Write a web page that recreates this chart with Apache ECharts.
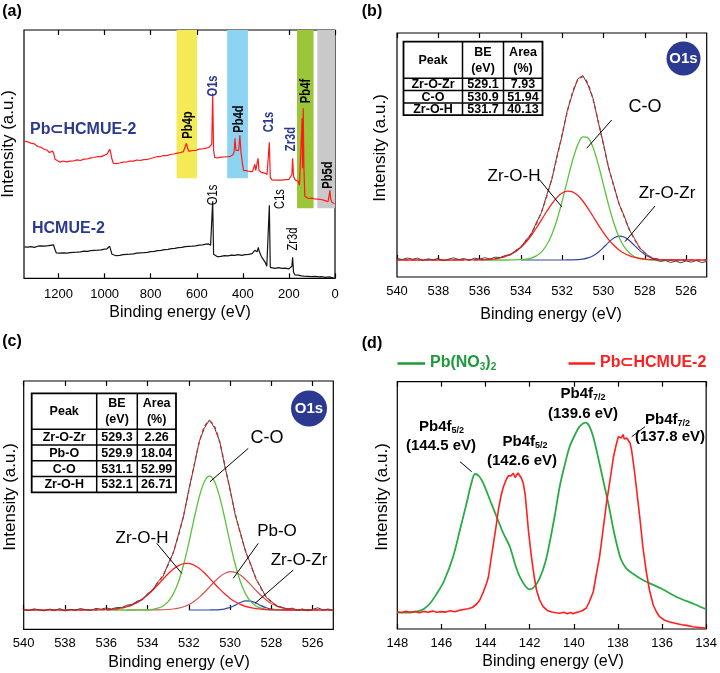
<!DOCTYPE html>
<html><head><meta charset="utf-8">
<script src="https://cdn.jsdelivr.net/npm/echarts@6/dist/echarts.min.js"></script>
<style>html,body{margin:0;padding:0;background:#fff}#c{width:720px;height:673px}</style>
</head><body><div id="c"></div>
<script>
// ---------------- DATA ----------------
const tickA = [0, 200, 400, 600, 800, 1000, 1200];
const tickBC = [526, 528, 530, 532, 534, 536, 538, 540];
const tickD = [134, 136, 138, 140, 142, 144, 146, 148];

// (a) survey spectra [binding energy, intensity]
const surveyComposite = [[1348,137],[1335,136.6],[1320,135.2],[1305,134.4],[1290,131.8],[1275,130.9],[1260,128.8],[1250,128.2],[1240,125.8],[1232,126.6],[1226,127.2],[1220,124],[1215,119],[1208,117],[1195,116.2],[1180,117.3],[1165,116.4],[1150,117.2],[1135,117.3],[1120,118.4],[1105,117.8],[1090,119.2],[1075,119.3],[1060,120.4],[1045,120.8],[1030,121.8],[1015,121.7],[1000,123.2],[990,124],[982,126],[978,129],[974,126],[968,119],[962,115],[950,114.6],[935,115.3],[920,116.2],[905,116.3],[890,117.3],[875,117.2],[860,118.3],[845,117.8],[830,118.7],[815,118.8],[800,119.8],[785,120.8],[770,121.8],[760,121.6],[745,122.8],[730,122.7],[715,123.8],[700,124.3],[685,125.2],[670,125.8],[658,126.7],[650,128],[645,135],[640,130],[634,127],[620,127.8],[605,127.8],[590,129.2],[575,129.3],[560,130.2],[548,130.8],[540,132],[535,134],[531,185],[527,128],[522,121],[510,120.3],[495,121.2],[480,121.3],[465,121.7],[455,122],[445,123],[438,126],[434,140],[430,128],[425,126],[418,128],[413,143],[408,126],[402,115],[397,108],[385,107.6],[370,106.8],[358,106.7],[352,108],[348,114],[344,108],[338,107.5],[334,120],[330,108],[320,106],[305,105.2],[295,103.8],[289,104.5],[285,136],[281,101],[274,98.5],[260,98.2],[245,98.3],[230,98.1],[215,98.6],[200,98.8],[192,100],[187,104],[184,120],[180,102],[172,98],[165,99],[160,97],[154,93],[148,95],[143,160],[141,110],[138,170],[135,110],[131,82],[125,80.6],[115,79.8],[100,80.2],[90,79.4],[75,79.1],[60,78.8],[50,78.2],[40,77.4],[30,76.6],[25,78],[22,88],[19,80],[14,76],[8,75.5],[2,74.5],[0,74]];
const surveyPristine = [[1348,31.5],[1335,31.1],[1320,31.6],[1305,30.9],[1290,32.1],[1275,32.4],[1260,32.1],[1245,32.6],[1235,33],[1228,34.5],[1222,33.5],[1216,29],[1210,25.5],[1195,25.1],[1180,25.4],[1165,25.1],[1150,25.6],[1135,25.9],[1120,26.1],[1105,26.4],[1090,27.1],[1075,26.9],[1060,27.6],[1045,27.9],[1030,28.1],[1015,28.4],[1000,29.1],[990,29.5],[982,30.5],[978,32],[974,30],[968,24],[962,22.5],[950,22.6],[935,22.9],[920,23.6],[905,23.9],[890,24.1],[875,24.4],[860,25.1],[845,25.4],[830,25.6],[815,25.9],[800,26.6],[785,26.9],[770,27.6],[755,27.9],[740,28.6],[725,28.9],[710,29.6],[695,29.9],[680,30.6],[665,30.9],[650,31.6],[635,31.9],[620,32.1],[605,32.4],[590,33.1],[575,33.4],[560,34.1],[550,34.5],[540,33],[535,31],[531,77],[527,24],[522,22],[510,21.6],[495,21.9],[480,22.6],[465,22.4],[450,23.1],[435,22.9],[420,23.6],[405,22.9],[390,23.6],[375,23.9],[360,24.6],[352,25],[348,28],[344,26],[338,26.5],[333,31],[329,27],[320,22],[312,20],[303,16],[296,12],[289,11.5],[285,73],[281,11],[275,10.6],[260,9.9],[245,10.6],[230,9.9],[215,10.1],[200,9.4],[192,9.6],[187,12],[184,21],[180,6],[174,3.5],[160,3.1],[145,2.4],[140,3.5],[135,2.1],[120,1.9],[100,1.6],[85,2],[70,1.4],[60,1.6],[40,1],[25,1.5],[22,3],[19,1],[10,0.5],[0,0]];
const bandRanges = [[688, 599], [468, 378], [165, 93], [77, 0]];
const bandFloor = [100, 100, 70, 70];

// (b),(c) fitted components on a common energy grid
const fitGrid = [540,539,538,537,536.5,536,535.75,535.5,535.25,535,534.75,534.5,534.25,534,533.75,533.5,533.25,533,532.75,532.5,532.25,532,531.75,531.5,531.25,531,530.75,530.5,530.25,530,529.75,529.5,529.25,529,528.75,528.5,528.25,528,527.75,527.5,527.25,527,526.5,526,525.5,525];
const bZrOH = [0,0,0,0.02,0.08,0.19,0.36,0.68,1.23,2.12,3.51,5.62,8.61,12.7,17.98,24.5,32.0,40.2,48.5,56.2,62.6,67.0,68.9,68.1,64.7,59.0,51.7,43.5,35.2,27.4,20.4,14.7,10.1,6.7,4.3,2.6,1.5,0.86,0.47,0.24,0.12,0.06,0,0,0,0];
const bCO = [null,null,null,null,null,0,0,0,0,0,0,0.04,0.12,0.33,0.82,1.91,4.1,8.15,15.0,25.5,40.3,58.8,79.4,99.3,115.0,123.2,122.3,112.3,95.5,75.2,54.8,37.0,23.1,13.4,7.2,3.5,1.6,0.69,0.27,0.1,0,0,null,null,null,null];
const bZrOZr = [null,null,null,null,null,null,null,null,null,null,null,null,null,0,0,0,0,0,0,0,0,0,0.03,0.1,0.33,0.88,2.07,4.28,7.79,12.49,17.6,21.9,23.9,23.0,19.5,14.6,9.6,5.5,2.8,1.26,0.5,0.17,0.02,0,null,null];
const bEnvelope = [0,0,0,0.02,0.08,0.2,0.4,0.7,1.2,2.1,3.5,5.7,8.7,13.0,18.8,26.4,36.1,48.3,63.5,81.7,102.9,125.8,148.3,167.4,179.7,183.1,176.1,160.1,138.5,115.1,92.8,73.6,57.1,43.1,31.0,20.7,12.7,7.1,3.5,1.6,0.6,0.2,0.02,0,0,0];

const cZrOH = [0,0,0,0.02,0.1,0.39,0.7,1.22,2.05,3.3,5.1,7.6,10.9,15.0,19.8,25.2,30.8,36.2,40.9,44.4,46.4,46.6,44.9,41.7,37.2,31.9,26.3,20.9,15.9,11.6,8.2,5.6,3.6,2.3,1.4,0.8,0.44,0.23,0.1,0.05,0,0,0,0,0,0];
const cCO = [null,null,null,null,null,0,0,0,0,0,0.01,0.03,0.09,0.26,0.71,1.77,4.03,8.4,16.1,28.2,45.5,67.1,90.8,112.7,128.3,134,128.3,112.7,90.8,67.1,45.5,28.2,16.1,8.4,4.0,1.8,0.7,0.26,0.1,0,null,null,null,null,null,null];
const cPbO = [null,null,null,null,null,null,null,null,null,0,0,0,0,0.02,0.05,0.11,0.25,0.5,1.0,1.9,3.3,5.5,8.6,12.6,17.5,23.0,28.5,33.3,36.7,38.3,37.6,34.9,30.5,25.2,19.7,14.5,10.1,6.6,4.1,2.4,1.3,0.69,0.15,0,null,null];
const cZrOZr = [null,null,null,null,null,null,null,null,null,null,null,null,null,null,null,null,null,null,null,null,null,0,0,0,0,0.02,0.1,0.36,1.08,2.57,4.9,7.5,9.1,8.9,7.0,4.4,2.2,0.88,0.28,0.07,0,0,0,0,null,null];
const cEnvelope = [0,0,0,0.02,0.1,0.4,0.7,1.2,2.1,3.3,5.1,7.6,11.0,15.3,20.5,27.0,34.8,45.1,58.0,74.5,95.2,119.2,144.3,167.0,183.0,188.9,183.2,167.3,144.5,119.6,96.2,76.2,59.3,44.8,32.1,21.5,13.4,8.0,4.6,2.5,1.3,0.7,0.15,0,0,0];

// (b),(c) measured O1s spectra
const rawGrid = [540,539.75,539.5,539.25,539,538.75,538.5,538.25,538,537.75,537.5,537.25,537,536.75,536.5,536.25,536,535.75,535.5,535.25,535,534.75,534.5,534.25,534,533.75,533.5,533.25,533,532.75,532.5,532.25,532,531.75,531.5,531.25,531,530.75,530.5,530.25,530,529.75,529.5,529.25,529,528.75,528.5,528.25,528,527.75,527.5,527.25,527,526.75,526.5,526.25,526,525.75,525.5,525.25,525];
const bRaw = [1.5,0.5,2.0,0.8,1.8,-0.5,1.2,0.2,1.6,-0.8,0.9,2.2,0.4,1.5,-0.3,1.8,1.0,2.3,1.0,2.8,2.5,4.6,5.2,9.8,12.5,20.2,25.6,37.4,47.5,64.8,80.6,104.1,124.7,149.6,166.2,181.0,184.5,175.0,161.3,137.6,116.2,91.8,74.7,56.2,44.3,30.1,21.8,11.9,7.8,2.6,0.4,-1.5,-0.6,-2.4,-1.2,-2.8,-0.9,-2.2,-0.5,-2.6,-1.4];
const cRaw = [0.8,-0.6,1.2,0.1,-0.9,0.9,-0.4,1.4,-1.0,0.6,-0.2,1.5,0.3,-0.5,1.6,0.8,2.1,0.9,2.6,2.4,4.8,5.6,8.9,10.2,16.4,19.8,28.3,33.6,46.2,57.1,75.8,94.0,120.5,143.2,168.1,181.7,190.2,182.0,168.4,143.1,120.8,95.0,77.3,58.1,45.9,31.0,22.6,12.5,8.9,3.7,2.9,0.6,1.9,-0.4,1.1,-0.8,0.7,2.2,0.1,1.0,-0.3];

const tableB = [['Peak','BE\n(eV)','Area\n(%)'],['Zr-O-Zr','529.1','7.93'],['C-O','530.9','51.94'],['Zr-O-H','531.7','40.13']];
const tableC = [['Peak','BE\n(eV)','Area\n(%)'],['Zr-O-Zr','529.3','2.26'],['Pb-O','529.9','18.04'],['C-O','531.1','52.99'],['Zr-O-H','532.1','26.71']];

// (d) Pb4f spectra
const dNitrate = [[148,16.3],[147.5,16.5],[147.1,17.5],[146.8,20],[146.5,26],[146.2,35.7],[145.9,47],[145.47,72.3],[145.15,100],[144.86,125.7],[144.65,145],[144.48,155],[144.3,153],[144.1,145.7],[143.8,129],[143.5,112.3],[143.2,96],[142.9,82.3],[142.65,64],[142.45,52.3],[142.2,43],[142.0,39.7],[141.8,42],[141.55,50.7],[141.3,66],[141.1,85.7],[140.85,115],[140.64,142.3],[140.4,165],[140.19,182.3],[139.95,194],[139.74,202.3],[139.46,206.3],[139.3,203],[139.12,192.3],[138.9,172],[138.67,149],[138.4,122],[138.2,99],[138.0,80],[137.85,69],[137.62,60.7],[137.3,55],[136.87,49],[136.0,40],[135.36,32.3],[134.5,24.5],[134,19.7]];
const dComposite = [[148,17.3],[147.8,16.5],[147.6,17.8],[147.4,16.6],[147.2,17.5],[147,16.2],[146.8,17.6],[146.6,16.8],[146.4,17.9],[146.2,16.7],[146,17.4],[145.8,16.9],[145.6,18.2],[145.4,17.3],[145.2,18.6],[145,19.5],[144.8,20.3],[144.6,21.5],[144.4,25],[144.26,29],[144.1,37],[143.95,46],[143.87,52],[143.75,70],[143.64,85.7],[143.52,103],[143.42,119],[143.3,133],[143.19,142.3],[143.05,150],[142.95,153.5],[142.85,153],[142.74,155.7],[142.66,151.5],[142.6,152.3],[142.53,156],[142.47,155],[142.38,151],[142.29,145.7],[142.2,134],[142.14,119],[142.05,97],[141.92,72.3],[141.8,53],[141.69,39],[141.55,29],[141.39,22.3],[141.2,18.6],[141,17],[140.8,16.2],[140.64,15.7],[140.45,16.8],[140.3,15.3],[140.15,16.5],[140.04,15.2],[139.9,16.4],[139.75,17.2],[139.6,18.5],[139.43,21],[139.3,27],[139.12,37],[139.0,52],[138.83,72.3],[138.68,98],[138.52,125.7],[138.35,150],[138.2,172.3],[138.08,184],[137.98,192.3],[137.85,191],[137.77,194.5],[137.71,190],[137.66,188.5],[137.6,191],[137.53,192.3],[137.45,186],[137.38,179],[137.25,158],[137.15,139],[137.0,110],[136.87,82.3],[136.72,58],[136.57,39],[136.4,24],[136.25,17],[136.11,12.3],[135.9,9],[135.7,7.2],[135.5,6.2],[135.36,5.5],[135.1,4.2],[134.9,3.6],[134.6,2.2],[134.3,1.5],[134,0.8]];

// ---------------- CHART ----------------
const FF = '"Liberation Sans", Arial, Helvetica, sans-serif';
const zip = (xs, ys) => xs.map((x, i) => [x, ys[i]]).filter(p => p[1] !== null && p[1] !== undefined);

const gridBoxes = [
  {left: 24, top: 30, width: 311, height: 248.3},
  {left: 397, top: 33, width: 309.7, height: 244},
  {left: 23.7, top: 381, width: 309.6, height: 248.3},
  {left: 397.3, top: 381.7, width: 309.4, height: 247.3}
];
const xRanges = [[0, 1350], [525, 540], [525, 540], [134, 148]];
const yRanges = [[0, 248.3], [-17, 227], [-19.3, 229], [0, 247.3]];
const tickSets = [tickA, tickBC, tickBC, tickD];
const labelMargins = [10, 8, 8, 8];

const grid = gridBoxes.map(g => Object.assign({show: true, borderColor: '#000', borderWidth: 1.2, backgroundColor: 'transparent', containLabel: false}, g));
const xAxis = [];
const yAxis = [];
gridBoxes.forEach((g, i) => {
  ['bottom', 'top'].forEach(pos => {
    xAxis.push({
      gridIndex: i, type: 'value', position: pos, inverse: true,
      min: xRanges[i][0], max: xRanges[i][1],
      axisLine: {show: false}, splitLine: {show: false},
      axisTick: {show: true, inside: true, length: 5, customValues: tickSets[i], lineStyle: {color: '#000', width: 1.2}},
      axisLabel: {show: pos === 'bottom', customValues: tickSets[i], margin: labelMargins[i], fontSize: 13, color: '#000', fontFamily: FF,
        formatter: v => String(v)}
    });
  });
  yAxis.push({gridIndex: i, type: 'value', min: yRanges[i][0], max: yRanges[i][1], show: false, splitLine: {show: false}});
});

function line(xi, yi, data, color, width, extra) {
  return Object.assign({type: 'line', xAxisIndex: xi, yAxisIndex: yi, data: data, symbol: 'none', silent: true,
    lineStyle: {color: color, width: width}, z: 3}, extra || {});
}

const bandColors = ['#f3ea55', '#8dd3f2', '#9bc63a', '#c9c9c9'];
const series = [
  {type: 'line', xAxisIndex: 0, yAxisIndex: 0, data: [[0, 0]], symbol: 'none', lineStyle: {width: 0}, z: 1, silent: true,
   markArea: {silent: true, data: bandRanges.map((r, k) => [
     {coord: [r[0], bandFloor[k]], itemStyle: {color: bandColors[k], opacity: 1}},
     {coord: [r[1], yRanges[0][1]]}])}},
  line(0, 0, surveyPristine, '#141414', 1.2),
  line(0, 0, surveyComposite, '#ff1a1a', 1.2),

  line(2, 1, zip(fitGrid, bZrOZr), '#2e4aa0', 1.2, {smooth: 0.3}),
  line(2, 1, zip(fitGrid, bCO), '#5cc23e', 1.3, {smooth: 0.3}),
  line(2, 1, zip(fitGrid, bZrOH), '#ff2020', 1.3, {smooth: 0.3}),
  line(2, 1, zip(rawGrid, bRaw), '#444444', 1, {z: 4}),
  line(2, 1, zip(fitGrid, bEnvelope), '#e02020', 1.2, {smooth: 0.3, z: 5, lineStyle: {color: '#e02020', width: 1.2, type: [4, 3]}}),

  line(4, 2, zip(fitGrid, cZrOZr), '#2e4aa0', 1.2, {smooth: 0.3}),
  line(4, 2, zip(fitGrid, cPbO), '#d0564f', 1.2, {smooth: 0.3}),
  line(4, 2, zip(fitGrid, cCO), '#5cc23e', 1.3, {smooth: 0.3}),
  line(4, 2, zip(fitGrid, cZrOH), '#ff2020', 1.3, {smooth: 0.3}),
  line(4, 2, zip(rawGrid, cRaw), '#444444', 1, {z: 4}),
  line(4, 2, zip(fitGrid, cEnvelope), '#e02020', 1.2, {smooth: 0.3, z: 5, lineStyle: {color: '#e02020', width: 1.2, type: [4, 3]}}),

  line(6, 3, dNitrate, '#2aab45', 1.8, {smooth: 0.3}),
  line(6, 3, dComposite, '#ff1f1f', 1.6)
];

// ---------- graphic texts / annotations ----------
function txt(x, y, text, style, extra) {
  return Object.assign({type: 'text', x: x, y: y, z: 100, silent: true,
    style: Object.assign({text: text, fill: '#000', fontSize: 16, fontFamily: FF, align: 'center', verticalAlign: 'middle'}, style || {})}, extra || {});
}
function seg(x1, y1, x2, y2, color, w) {
  return {type: 'line', z: 100, silent: true, shape: {x1: x1, y1: y1, x2: x2, y2: y2}, style: {stroke: color || '#000', lineWidth: w || 1}};
}
const ROT = Math.PI / 2;
const NAVY = '#2b3990';
const els = [];

// panel letters
[['(a)', 12, 12], ['(b)', 372, 12], ['(c)', 12, 342], ['(d)', 372, 344]].forEach(p => els.push(txt(p[1], p[2], p[0], {fontWeight: 'bold', fontSize: 16})));
// axis names
[[180, 313], [551, 315], [179, 663], [553, 662]].forEach(p => els.push(txt(p[0], p[1], 'Binding energy (eV)', {fontSize: 16})));
[[8.5, 144], [380, 148], [10, 497], [382, 497]].forEach(p => els.push(txt(p[0], p[1], 'Intensity (a.u.)', {fontSize: 17}, {rotation: ROT})));

// (a) labels
els.push(txt(30, 130, 'Pb⊂HCMUE-2', {fill: NAVY, fontWeight: 'bold', fontSize: 16, align: 'left'}));
els.push(txt(32, 229, 'HCMUE-2', {fill: NAVY, fontWeight: 'bold', fontSize: 16, align: 'left'}));
[['Pb4p', 188.5, 125, '#000', 'bold'], ['O1s', 213, 86, NAVY, 'bold'], ['Pb4d', 239.5, 119, '#000', 'bold'],
 ['C1s', 269.5, 122, NAVY, 'bold'], ['Zr3d', 291.5, 139, NAVY, 'bold'], ['Pb4f', 306.5, 91, '#000', 'bold'],
 ['Pb5d', 328.5, 175, '#000', 'bold'], ['O1s', 213.5, 195, '#000', 'normal'], ['C1s', 280, 199, '#000', 'normal'],
 ['Zr3d', 293.5, 239, '#000', 'normal']].forEach(l => els.push(txt(l[1], l[2], l[0], {fill: l[3], fontWeight: l[4], fontSize: 14}, {rotation: ROT, scaleX: 0.8})));

// tables
function table(cols, rows, data) {
  const out = [];
  out.push({type: 'rect', z: 99, silent: true, shape: {x: cols[0], y: rows[0], width: cols[cols.length - 1] - cols[0], height: rows[rows.length - 1] - rows[0]},
    style: {fill: '#fff', stroke: '#000', lineWidth: 1.8}});
  for (let i = 1; i < cols.length - 1; i++) out.push(seg(cols[i], rows[0], cols[i], rows[rows.length - 1], '#000', 1.5));
  for (let j = 1; j < rows.length - 1; j++) out.push(seg(cols[0], rows[j], cols[cols.length - 1], rows[j], '#000', 1.5));
  data.forEach((r, j) => r.forEach((t, i) => {
    out.push(txt((cols[i] + cols[i + 1]) / 2, (rows[j] + rows[j + 1]) / 2 + 0.5, t, {fontWeight: 'bold', fontSize: 12.5, lineHeight: 16}));
  }));
  return out;
}
els.push(...table([403.5, 462.5, 503.5, 542.5], [41.7, 78.3, 90.6, 102.9, 115.2], tableB));
els.push(...table([31.7, 96.7, 137.3, 176], [393.3, 429.3, 445, 460.7, 476.5, 492.3], tableC));

// O1s badges
[[683.5, 58.5, 17], [309, 408.5, 18]].forEach(b => {
  els.push({type: 'circle', z: 99, silent: true, shape: {cx: b[0], cy: b[1], r: b[2]}, style: {fill: NAVY}});
  els.push(txt(b[0], b[1] + 0.5, 'O1s', {fill: '#fff', fontWeight: 'bold', fontSize: 15}));
});

// (b) annotations
els.push(txt(645, 107, 'C-O', {fontSize: 18}));
els.push(seg(611.7, 120, 586.7, 148.3));
els.push(txt(514, 176, 'Zr-O-H', {fontSize: 17}));
els.push(seg(538.3, 178.3, 561.7, 206.7));
els.push(txt(667, 193.5, 'Zr-O-Zr', {fontSize: 17}));
els.push(seg(655, 206, 625, 241.7));

// (c) annotations
els.push(txt(267, 438.5, 'C-O', {fontSize: 18}));
els.push(seg(248.3, 448.3, 210, 481.7));
els.push(txt(142, 538.5, 'Zr-O-H', {fontSize: 17}));
els.push(seg(156.7, 543.3, 181.7, 573.3));
els.push(txt(277, 531.5, 'Pb-O', {fontSize: 17}));
els.push(seg(258.3, 543.3, 233.3, 578.3));
els.push(txt(299, 560, 'Zr-O-Zr', {fontSize: 17}));
els.push(seg(293.3, 570, 255, 603.3));

// (d) legend + peak labels
const subRich = {s: {fontSize: 9, fontWeight: 'bold', fontFamily: FF, verticalAlign: 'bottom', lineHeight: 8}};
els.push(seg(397.5, 363.5, 425, 363.5, '#1e9a3c', 2.5));
els.push(txt(430, 363, 'Pb(NO{s|3}){s|2}', {fill: '#1e9a3c', fontWeight: 'bold', fontSize: 16, align: 'left', lineHeight: 18,
  rich: {s: {fontSize: 10, fontWeight: 'bold', fontFamily: FF, fill: '#1e9a3c', verticalAlign: 'bottom', lineHeight: 9}}}));
els.push(seg(568.5, 363.5, 595, 363.5, '#ff1f1f', 2.5));
els.push(txt(600, 363, 'Pb⊂HCMUE-2', {fill: '#ff1f1f', fontWeight: 'bold', fontSize: 16, align: 'left'}));
[['5/2', 441.5, 427, '(144.5 eV)', 441, 445.5],
 ['5/2', 525, 442, '(142.6 eV)', 522, 460.5],
 ['7/2', 583, 393.5, '(139.6 eV)', 583, 413.5],
 ['7/2', 667.5, 420, '(137.8 eV)', 670, 437]].forEach(p => {
  els.push(txt(p[1], p[2], 'Pb4f{s|' + p[0] + '}', {fontWeight: 'bold', fontSize: 15, lineHeight: 17, rich: subRich}));
  els.push(txt(p[4], p[5], p[3], {fontWeight: 'bold', fontSize: 15}));
});
els.push(seg(460, 461.7, 471.7, 471.7));
els.push(seg(645, 426.7, 631.7, 436.7));

const chart = echarts.init(document.getElementById('c'), null, {renderer: 'canvas'});
chart.setOption({
  animation: false,
  backgroundColor: '#fff',
  textStyle: {fontFamily: FF},
  grid: grid, xAxis: xAxis, yAxis: yAxis, series: series,
  graphic: {elements: els}
});
</script></body></html>
